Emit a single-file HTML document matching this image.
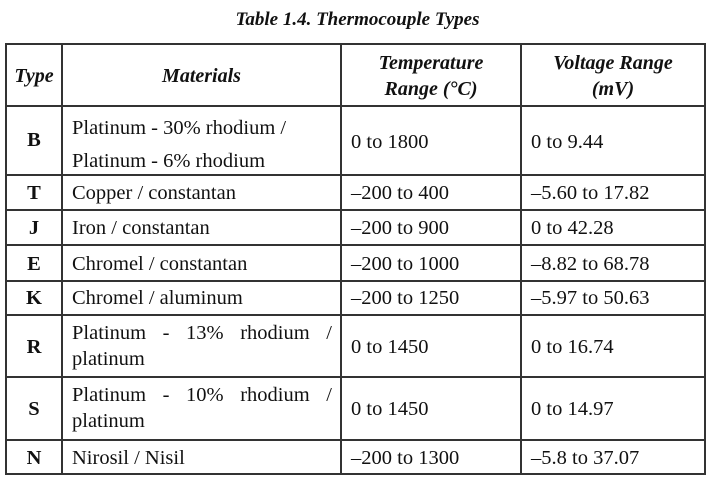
<!DOCTYPE html>
<html><head><meta charset="utf-8"><style>
body{margin:0;width:719px;height:482px;background:#fff;position:relative;overflow:hidden;font-family:"Liberation Serif",serif;color:#111}
.h,.v{position:absolute;background:#333}
.h{height:2px;left:5px;width:701px}
.v{width:2px;top:43px;height:432px}
.t{position:absolute;font-size:20.5px;line-height:26px;white-space:nowrap}
.c{text-align:center}
.hd{font-weight:bold;font-style:italic;font-size:20px}
</style></head><body>
<div class="t hd" style="left:0;width:715px;top:7px;font-size:19px;text-align:center">Table 1.4. Thermocouple Types</div>
<div class="h" style="top:43px"></div>
<div class="h" style="top:105px"></div>
<div class="h" style="top:174px"></div>
<div class="h" style="top:209px"></div>
<div class="h" style="top:244px"></div>
<div class="h" style="top:280px"></div>
<div class="h" style="top:314px"></div>
<div class="h" style="top:376px"></div>
<div class="h" style="top:439px"></div>
<div class="h" style="top:473px"></div>
<div class="v" style="left:5px"></div>
<div class="v" style="left:61px"></div>
<div class="v" style="left:340px"></div>
<div class="v" style="left:520px"></div>
<div class="v" style="left:704px"></div>

<div class="t hd c" style="left:7px;width:54px;top:63px">Type</div>
<div class="t hd c" style="left:63px;width:277px;top:63px">Materials</div>
<div class="t hd c" style="left:342px;width:178px;top:50px;line-height:26px">Temperature<br>Range (°C)</div>
<div class="t hd c" style="left:522px;width:182px;top:50px;line-height:26px">Voltage Range<br>(mV)</div>

<div class="t c" style="left:7px;width:54px;top:127px;font-weight:bold">B</div>
<div class="t" style="left:72px;top:112px;line-height:33px">Platinum - 30% rhodium /<br>Platinum - 6% rhodium</div>
<div class="t" style="left:351px;top:129px">0 to 1800</div>
<div class="t" style="left:531px;top:129px">0 to 9.44</div>

<div class="t c" style="left:7px;width:54px;top:180px;font-weight:bold">T</div>
<div class="t" style="left:72px;top:180px">Copper / constantan</div>
<div class="t" style="left:351px;top:180px">–200 to 400</div>
<div class="t" style="left:531px;top:180px">–5.60 to 17.82</div>

<div class="t c" style="left:7px;width:54px;top:215px;font-weight:bold">J</div>
<div class="t" style="left:72px;top:215px">Iron / constantan</div>
<div class="t" style="left:351px;top:215px">–200 to 900</div>
<div class="t" style="left:531px;top:215px">0 to 42.28</div>

<div class="t c" style="left:7px;width:54px;top:251px;font-weight:bold">E</div>
<div class="t" style="left:72px;top:251px">Chromel / constantan</div>
<div class="t" style="left:351px;top:251px">–200 to 1000</div>
<div class="t" style="left:531px;top:251px">–8.82 to 68.78</div>

<div class="t c" style="left:7px;width:54px;top:285px;font-weight:bold">K</div>
<div class="t" style="left:72px;top:285px">Chromel / aluminum</div>
<div class="t" style="left:351px;top:285px">–200 to 1250</div>
<div class="t" style="left:531px;top:285px">–5.97 to 50.63</div>

<div class="t c" style="left:7px;width:54px;top:334px;font-weight:bold">R</div>
<div class="t" style="left:72px;top:320px;width:260px;white-space:normal;text-align:justify;text-align-last:justify">Platinum - 13% rhodium /</div>
<div class="t" style="left:72px;top:346px">platinum</div>
<div class="t" style="left:351px;top:334px">0 to 1450</div>
<div class="t" style="left:531px;top:334px">0 to 16.74</div>

<div class="t c" style="left:7px;width:54px;top:396px;font-weight:bold">S</div>
<div class="t" style="left:72px;top:382px;width:260px;white-space:normal;text-align:justify;text-align-last:justify">Platinum - 10% rhodium /</div>
<div class="t" style="left:72px;top:408px">platinum</div>
<div class="t" style="left:351px;top:396px">0 to 1450</div>
<div class="t" style="left:531px;top:396px">0 to 14.97</div>

<div class="t c" style="left:7px;width:54px;top:445px;font-weight:bold">N</div>
<div class="t" style="left:72px;top:445px">Nirosil / Nisil</div>
<div class="t" style="left:351px;top:445px">–200 to 1300</div>
<div class="t" style="left:531px;top:445px">–5.8 to 37.07</div>
</body></html>
